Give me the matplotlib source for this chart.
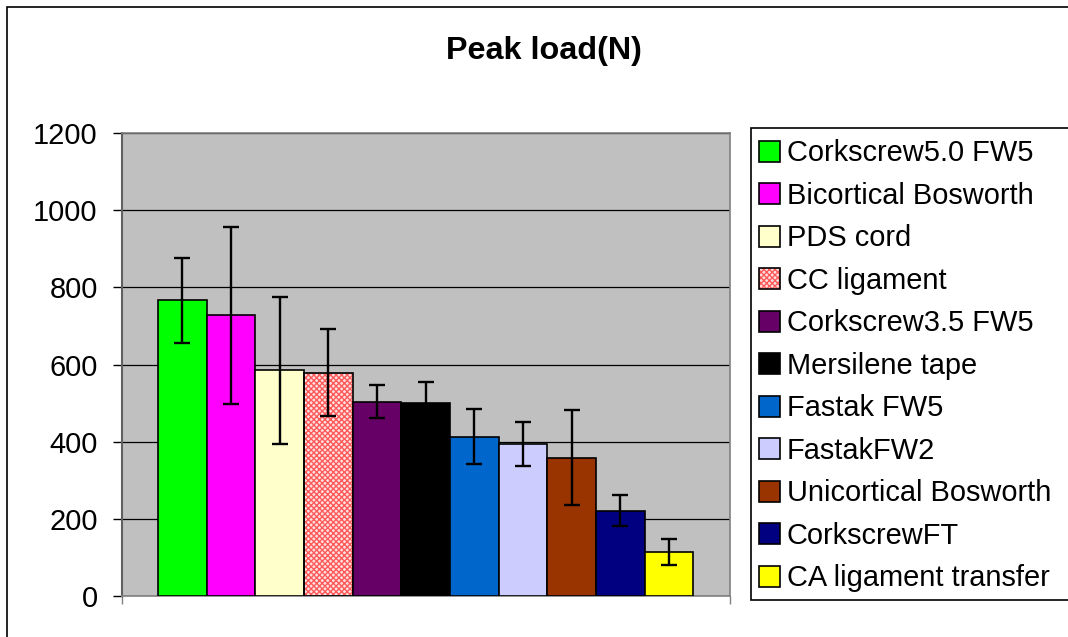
import matplotlib
matplotlib.use("Agg")
import matplotlib.pyplot as plt
from matplotlib.patches import Patch, Rectangle
from matplotlib.legend_handler import HandlerTuple

plt.rcParams['font.family'] = ['Liberation Sans', 'DejaVu Sans']
plt.rcParams['hatch.linewidth'] = 1.0

categories = ["Corkscrew5.0 FW5", "Bicortical Bosworth", "PDS cord", "CC ligament",
              "Corkscrew3.5 FW5", "Mersilene tape", "Fastak FW5", "FastakFW2",
              "Unicortical Bosworth", "CorkscrewFT", "CA ligament transfer"]
means = [767, 727, 585, 579, 504, 501, 413, 394, 358, 221, 114]
errors = [110, 230, 190, 112, 43, 53, 72, 57, 123, 40, 33]
colors = ["#00FF00", "#FF00FF", "#FFFFCC", "#FFFFFF", "#660066", "#000000",
          "#0066CC", "#CCCCFF", "#993300", "#000080", "#FFFF00"]
yticks = [0, 200, 400, 600, 800, 1000, 1200]
title = "Peak load(N)"

W, H = 1068, 637
fig = plt.figure(figsize=(W / 100, H / 100), dpi=100)
fig.patch.set_facecolor("white")

# outer chart border
fig.patches.append(Rectangle((7 / W, -0.05), 1.1, 1 - 7 / H + 0.05, transform=fig.transFigure,
                             fill=False, edgecolor="black", linewidth=1.2, zorder=0))

ax = fig.add_axes([122 / W, 1 - 596 / H, (729.5 - 122) / W, (596 - 133) / H])
ax.set_facecolor("#C0C0C0")
ax.set_axisbelow(True)

hatch_face = "#FFE0E0"
hatch_col = "#FF5A5A"
handles = []
for i, (m, e, c, lab) in enumerate(zip(means, errors, colors, categories)):
    if lab == "CC ligament":
        ax.bar(i, m, width=1.0, color=hatch_face, edgecolor=hatch_col, hatch="xxxxxx",
               linewidth=0, zorder=2)
        ax.bar(i, m, width=1.0, fill=False, edgecolor="black", linewidth=1.2, zorder=3)
        handles.append((Patch(facecolor=hatch_face, edgecolor=hatch_col, hatch="xxxxxx",
                              linewidth=0),
                        Patch(fill=False, edgecolor="black", linewidth=1.2)))
    else:
        ax.bar(i, m, width=1.0, color=c, edgecolor="black", linewidth=1.2, zorder=3)
        handles.append(Patch(facecolor=c, edgecolor="black", linewidth=1.2))
    ax.errorbar(i, m, yerr=e, fmt="none", ecolor="black", elinewidth=1.7,
                capsize=5.6, capthick=1.7, zorder=4)

pad = 0.741
ax.set_xlim(-0.5 - pad, len(means) - 0.5 + pad)
ax.set_ylim(0, 1200)
ax.set_yticks(yticks)
ax.set_yticklabels([str(v) for v in yticks], fontsize=20.9)
ax.set_xticks([-0.5 - pad, len(means) - 0.5 + pad])
ax.set_xticklabels(["", ""])
ax.tick_params(axis="y", direction="out", length=6.5, width=1, color="black", pad=11)
ax.tick_params(axis="x", direction="out", length=6, width=1, color="#808080")
ax.yaxis.grid(True, color="black", linewidth=0.9)
ax.xaxis.grid(False)
for s in ["top", "right", "bottom"]:
    ax.spines[s].set_color("#808080")
    ax.spines[s].set_linewidth(1.2)
ax.spines["left"].set_color("#606060")
ax.spines["left"].set_linewidth(1.5)

fig.text(543.7 / W, 1 - 51 / H, title, fontsize=23.3, fontweight="bold",
         ha="center", va="center")

# legend box (extends past the right edge, as in the reference)
fig.patches.append(Rectangle((750.7 / W, 1 - 600 / H), 1.0, (600 - 128.3) / H,
                             transform=fig.transFigure, facecolor="white",
                             edgecolor="black", linewidth=1.2, zorder=1))

leg = fig.legend(handles, categories, loc="upper left",
                 bbox_to_anchor=(747.7 / W, 1 - 128.3 / H), bbox_transform=fig.transFigure,
                 borderaxespad=0, fontsize=20.9, handlelength=0.72, handleheight=0.72,
                 handletextpad=0.24, labelspacing=0.5, borderpad=0.38,
                 frameon=False, handler_map={tuple: HandlerTuple(ndivide=1, pad=0)})
leg.set_zorder(5)

fig.savefig("out.png", dpi=100)
